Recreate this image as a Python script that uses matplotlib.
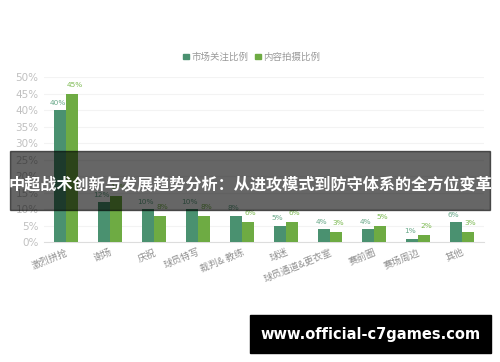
import numpy as np
import matplotlib
matplotlib.use("Agg")
import matplotlib.pyplot as plt
from matplotlib.patches import Rectangle

plt.rcParams['font.family'] = ['Noto Sans CJK SC', 'DejaVu Sans']

# --- DATA ---
categories = ["激烈拼抢", "谢场", "庆祝", "球员特写", "裁判& 教练", "球迷",
              "球员通道&更衣室", "赛前圈", "赛场周边", "其他"]
market = [40, 12, 10, 10, 8, 5, 4, 4, 1, 6]
content = [45, 14, 8, 8, 6, 6, 3, 5, 2, 3]
yticks = [0, 5, 10, 15, 20, 25, 30, 35, 40, 45, 50]

dark = "#4a9170"
light = "#6eab43"

fig = plt.figure(figsize=(5, 3.62), dpi=100)
ax = fig.add_axes([0.088, 0.3315, 0.88, 0.4555])

x = np.arange(len(categories))
w = 0.28
ax.bar(x - w / 2, market, w, color=dark, zorder=3)
ax.bar(x + w / 2, content, w, color=light, zorder=3)

for i in range(len(categories)):
    ax.text(x[i] - w / 2 - 0.05, market[i] + 1.3, f"{market[i]}%", ha="center",
            va="bottom", fontsize=5.3, color="#6aa98a", family=["DejaVu Sans"])
    ax.text(x[i] + w / 2 + 0.05, content[i] + 1.8, f"{content[i]}%", ha="center",
            va="bottom", fontsize=5.3, color="#7fbb55", family=["DejaVu Sans"])

ax.set_xlim(-0.5, len(categories) - 0.5)
ax.set_ylim(0, 50)
ax.set_yticks(yticks)
ax.set_yticklabels([f"{v}%" for v in yticks], fontsize=7.5, color="#c0c0c0",
                   family=["DejaVu Sans"])
ax.set_xticks(x)
ax.set_xticklabels(categories, rotation=22, ha="right", rotation_mode="anchor",
                   fontsize=6.8, color="#909090")
ax.tick_params(axis="both", length=0, pad=4)
ax.grid(axis="y", color="#f3f3f3", linewidth=0.8, zorder=0)
for s in ["top", "right", "left"]:
    ax.spines[s].set_visible(False)
ax.spines["bottom"].set_color("#dddddd")

# --- LEGEND ---
fig.patches.append(Rectangle((0.366, 0.836), 0.011, 0.015, color=dark,
                             transform=fig.transFigure, figure=fig))
fig.text(0.382, 0.843, "市场关注比例", fontsize=6.8, color="#999999", va="center")
fig.patches.append(Rectangle((0.51, 0.836), 0.011, 0.015, color=light,
                             transform=fig.transFigure, figure=fig))
fig.text(0.526, 0.843, "内容拍摄比例", fontsize=6.8, color="#999999", va="center")

# --- TITLE BANNER ---
fig.patches.append(Rectangle((0.02, 0.42), 0.96, 0.163, color="black", alpha=0.6,
                             transform=fig.transFigure, figure=fig, zorder=10))
fig.text(0.5, 0.49, "中超战术创新与发展趋势分析：从进攻模式到防守体系的全方位变革",
         fontsize=11.6, fontweight="bold", color="white", ha="center", va="center",
         zorder=11)

# --- WATERMARK ---
fig.patches.append(Rectangle((0.5, 0.025), 0.482, 0.105, color="black",
                             transform=fig.transFigure, figure=fig, zorder=10))
fig.text(0.741, 0.077, "www.official-c7games.com", fontsize=10.5, fontweight="bold",
         color="white", ha="center", va="center", family=["DejaVu Sans"], zorder=11)

fig.savefig("out.png", dpi=100)
